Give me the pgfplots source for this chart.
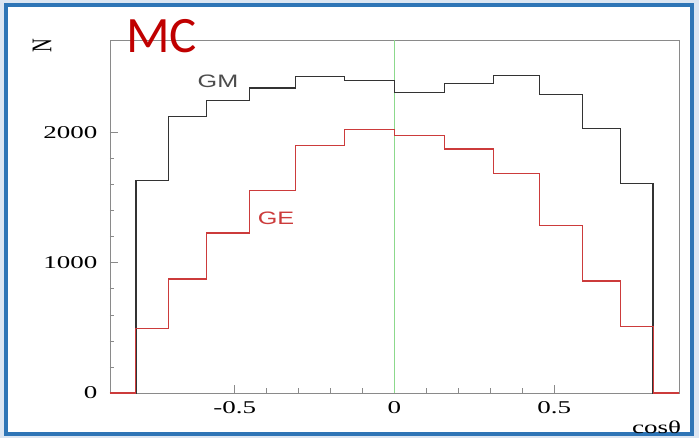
\documentclass[border=0pt]{standalone}
\usepackage{fontspec}
\setmainfont{Liberation Serif}
\newfontfamily\stserif[FakeStretch=1.5]{Liberation Serif}
\newfontfamily\stsans[FakeStretch=1.4]{Liberation Sans}
\newfontfamily\calib{Carlito}
\usepackage{pgfplots}
\pgfplotsset{compat=1.18}
\usetikzlibrary{backgrounds}
\definecolor{bgblue}{HTML}{DCE6F2}
\definecolor{frameblue}{HTML}{2E75B6}
\definecolor{histred}{HTML}{CC3B3B}
\definecolor{mcred}{HTML}{C00000}
\definecolor{glgreen}{HTML}{8CD98C}
\definecolor{axgray}{HTML}{8A8A8A}
\begin{document}
\begin{tikzpicture}
\begin{axis}[
  name=ax,
  scale only axis, width=569pt, height=353pt,
  xmin=-0.89, xmax=0.89, ymin=0, ymax=2710,
  clip=false, no markers,
  axis line style={draw=axgray, line width=0.8pt},
  tick align=inside, xtick pos=bottom, ytick pos=left,
  xtick={-0.5,0,0.5}, ytick={0,1000,2000},
  minor x tick num=4, minor y tick num=4,
  major tick length=8pt, minor tick length=4.5pt,
  tick style={draw=axgray, line width=0.6pt},
  scaled ticks=false,
  /pgf/number format/assume math mode=true,
  /pgf/number format/1000 sep={},
  tick label style={font=\stserif\fontsize{18}{18}\selectfont},
  yticklabel style={xshift=-9pt},
  xticklabel style={yshift=-5pt},
]
\addplot[glgreen, line width=0.9pt] coordinates {(0,0) (0,2710)};
\addplot[const plot, draw=black!80, line width=1.3pt] coordinates {
(-0.89,0) (-0.809,1629) (-0.707,2120) (-0.588,2246) (-0.454,2341) (-0.309,2430)
(-0.156,2397) (0,2307) (0.156,2374) (0.309,2440) (0.454,2289) (0.588,2031)
(0.707,1609) (0.809,0) (0.89,0)};
\addplot[const plot, draw=histred, line width=1.2pt] coordinates {
(-0.89,0) (-0.809,496) (-0.707,875) (-0.588,1228) (-0.454,1555) (-0.309,1898)
(-0.156,2021) (0,1975) (0.156,1873) (0.309,1688) (0.454,1284) (0.588,860)
(0.707,511) (0.809,0) (0.89,0)};
\end{axis}
\begin{scope}[shift={(ax.south west)}, x=1pt, y=1pt]
\begin{scope}[on background layer]
\fill[bgblue] (-110,-45) rectangle (589,393);
\fill[white] (-104,-41) rectangle (582,388);
\draw[frameblue, line width=4pt] (-104,-41) rectangle (582,388);
\end{scope}
\node[rotate=90, inner sep=0pt] at (-68,347) {\fontsize{19}{19}\selectfont\scalebox{1}[1.5]{N}};
\node[inner sep=0pt] at (546.5,-34) {\stserif\fontsize{18}{18}\selectfont cosθ};
\node[inner sep=0pt, text=black!70] at (108,312) {\stsans\fontsize{18}{18}\selectfont GM};
\node[inner sep=0pt, text=histred] at (166,175) {\stsans\fontsize{18}{18}\selectfont GE};
\node[inner sep=0pt, text=mcred] at (51.5,356.5) {\calib\fontsize{51}{51}\selectfont MC};
\end{scope}
\end{tikzpicture}
\end{document}
